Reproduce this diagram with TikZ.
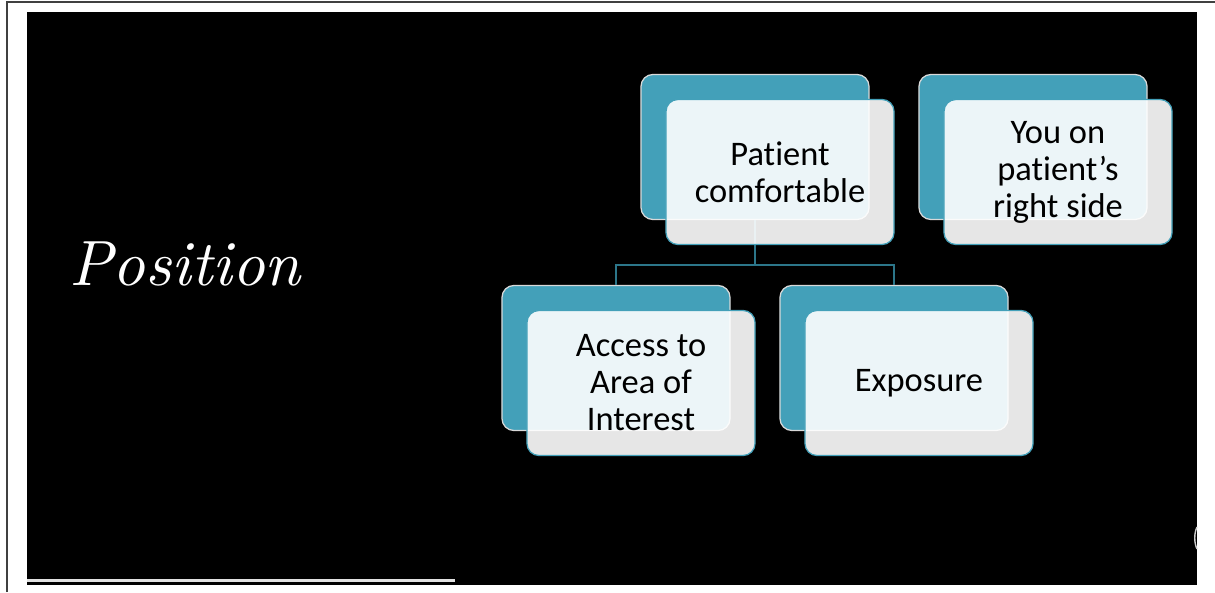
\documentclass[tikz,border=0pt]{standalone}
\usepackage{fontspec}
\usepackage{tikz}
\usetikzlibrary{positioning,calc}
\newfontfamily\boxfont{Carlito}[Ligatures=NoCommon, RawFeature={-calt}]
\newfontfamily\titlefont{lmroman10-italic}[Extension=.otf]
\definecolor{slideteal}{RGB}{67,160,185}
\definecolor{linkteal}{RGB}{44,118,138}
\definecolor{frameline}{RGB}{64,64,64}
\definecolor{rulegray}{RGB}{225,225,225}

\begin{document}
\begin{tikzpicture}[
    x=0.025cm, y=-0.025cm,
    every node/.style={align=center},
    backbox/.style={rectangle, rounded corners=8.5pt, minimum width=5.7cm, minimum height=3.625cm, draw=white!85!black, fill=slideteal, line width=0.9pt},
    frontbox/.style={rectangle, rounded corners=8.5pt, minimum width=5.7cm, minimum height=3.625cm, draw=slideteal, fill=white, fill opacity=0.9, text opacity=1, line width=0.9pt, text=black, font=\boxfont\fontsize{24.5}{26.3}\selectfont},
    link/.style={draw=linkteal, line width=1.4pt}
]
\useasboundingbox (0,0) rectangle (1215,592);

% page and slide
\fill[white] (0,0) rectangle (1215,592);
\draw[frameline, line width=1.5pt] (7,592) -- (7,2) -- (1215,2);
\fill[black] (27,12) rectangle (1197,585);
\draw[rulegray, line width=1.5pt] (27,580.5) -- (455,580.5);
\draw[white!80!black, line width=1pt] (1197,527) .. controls (1194,533) and (1194,543) .. (1197,549);

% title
\node[text=white, font=\titlefont\fontsize{45.5}{50}\selectfont, anchor=base west, inner sep=0pt] (title) at (69,285) {Position};

% back boxes
\node[backbox] (comfortBack) at (755,147) {};
\node[backbox] (sideBack) at (1033,147) {};
\node[backbox] (accessBack) at (616,358) {};
\node[backbox] (exposureBack) at (894,358) {};

% hierarchy lines
\draw[link] (comfortBack.south) -- ++(0,45) coordinate (split);
\draw[link] (split) -| (accessBack.north);
\draw[link] (split) -| (exposureBack.north);

% front boxes
\node[frontbox] (comfort) at ([shift={(25,25)}]comfortBack.center) {Patient\\comfortable};
\node[frontbox] (side) at ([shift={(25,25)}]sideBack.center) {You on\\patient’s\\right side};
\node[frontbox] (access) at ([shift={(25,25)}]accessBack.center) {Access to\\Area of\\Interest};
\node[frontbox] (exposure) at ([shift={(25,25)}]exposureBack.center) {Exposure};

\end{tikzpicture}
\end{document}
